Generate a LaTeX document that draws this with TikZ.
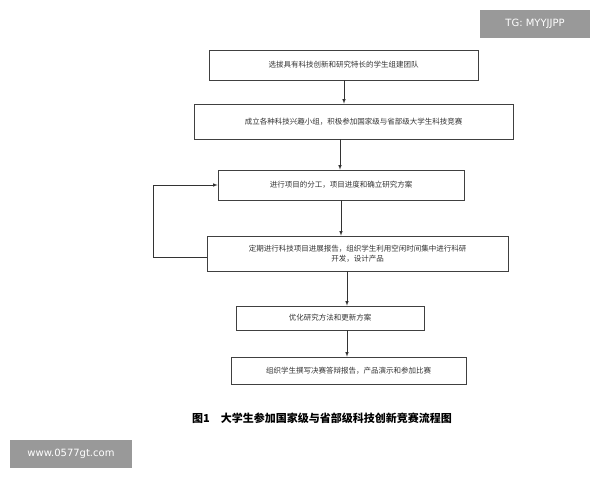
\documentclass[tikz,border=0pt]{standalone}
\usepackage{fontspec}
\newfontfamily\cjk{Noto Sans CJK SC}
\newfontfamily\wm{DejaVu Sans}
\begin{document}
\begin{tikzpicture}[x=1pt,y=-1pt,
  box/.style={draw=black!75,line width=0.6pt,minimum height=#1,inner sep=0pt,font=\cjk\fontsize{7.5}{10}\selectfont,text=black!80},
  box/.default=30pt,
  arr/.style={-latex,line width=0.6pt,draw=black!80},
  wmbox/.style={fill=black!40,text=white,font=\wm\fontsize{10}{12}\selectfont,inner sep=0pt}]
\useasboundingbox (0,0) rectangle (600,480);
\node[box=30pt,minimum width=269pt] (b1) at (343.5,65) {选拔具有科技创新和研究特长的学生组建团队};
\node[box=35pt,minimum width=319pt] (b2) at (353.5,121.5) {成立各种科技兴趣小组，积极参加国家级与省部级大学生科技竞赛};
\node[box=30pt,minimum width=246pt] (b3) at (341,185) {进行项目的分工，项目进度和确立研究方案};
\node[box=35pt,minimum width=301pt,align=center] (b4) at (357.5,253.5) {定期进行科技项目进展报告，组织学生利用空闲时间集中进行科研\\开发，设计产品};
\node[box=24pt,minimum width=188pt] (b5) at (330,318) {优化研究方法和更新方案};
\node[box=27pt,minimum width=235pt] (b6) at (348.5,370.5) {组织学生撰写决赛答辩报告，产品演示和参加比赛};
\draw[arr] (b1.south -| 344,0) -- (b2.north -| 344,0);
\draw[arr] (b2.south -| 340,0) -- (b3.north -| 340,0);
\draw[arr] (b3.south -| 341,0) -- (b4.north -| 341,0);
\draw[arr] (b4.south -| 347,0) -- (b5.north -| 347,0);
\draw[arr] (b5.south -| 347,0) -- (b6.north -| 347,0);
\coordinate (fb) at (153,257);
\draw[arr] (b4.west |- fb) -- (fb) |- (b3.west);
\node[font=\cjk\bfseries\fontsize{11}{13}\selectfont] (cap) at (322,418) {图1\quad 大学生参加国家级与省部级科技创新竞赛流程图};
\node[wmbox,minimum width=110pt,minimum height=28pt] (w1) at (535,24) {TG: MYYJJPP};
\node[wmbox,minimum width=122pt,minimum height=28pt] (w2) at (71,454) {www.0577gt.com};
\end{tikzpicture}
\end{document}
